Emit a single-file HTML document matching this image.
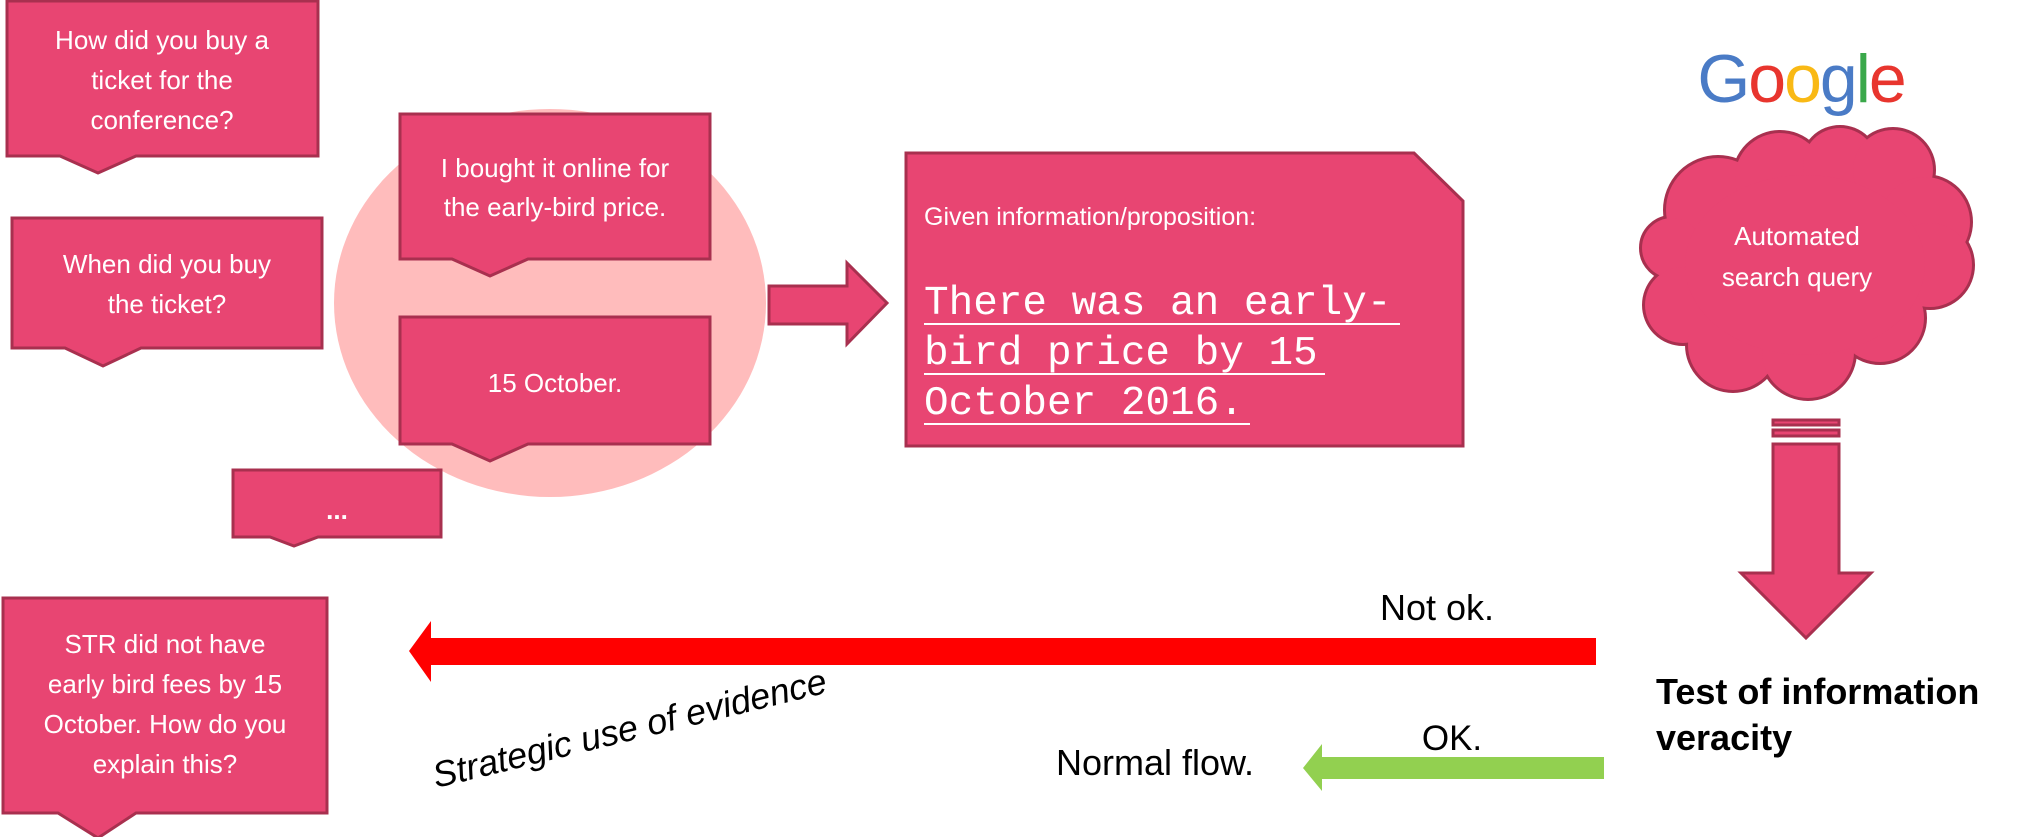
<!DOCTYPE html>
<html><head><meta charset="utf-8"><style>
html,body{margin:0;padding:0;background:#fff;}
svg{display:block;}
.w{fill:#fff;font-family:"Liberation Sans",sans-serif;font-size:26px;text-anchor:middle;}
</style></head><body>
<svg width="2019" height="837" viewBox="0 0 2019 837" xmlns="http://www.w3.org/2000/svg">
<g stroke="#a8304f" stroke-width="3" fill="#e84572">
<ellipse cx="550" cy="303" rx="216" ry="194" fill="#ffbcbc" stroke="none"/>
<path d="M7,1 H318 V156 H136 L98,173 L60,156 H7 Z"/>
<path d="M12,218 H322 V348 H141 L103,366 L65,348 H12 Z"/>
<path d="M400,114 H710 V259 H528 L490,276 L452,259 H400 Z"/>
<path d="M400,317 H710 V444 H528 L490,461 L452,444 H400 Z"/>
<path d="M233,470 H441 V537 H318 L294,546 L270,537 H233 Z"/>
<path d="M3,598 H327 V813 H136 L98,838 L58,813 H3 Z"/>
<path d="M769,286 H847 V263 L887,303 L847,344 V324 H769 Z"/>
<path d="M906,153 H1414 L1463,201 V446 H906 Z"/>
<path d="M1773,444 H1839 V573 H1871 L1806,638 L1741,573 H1773 Z"/>
<rect x="1773" y="420" width="66" height="5"/>
<rect x="1773" y="430" width="66" height="6"/>
</g>
<g fill="#e84572" stroke="#a8304f" stroke-width="6">
<circle cx="1718" cy="210" r="52"/><circle cx="1780" cy="178" r="45"/><circle cx="1840" cy="165" r="37"/>
<circle cx="1893" cy="170" r="40"/><circle cx="1925" cy="222" r="45"/><circle cx="1930" cy="265" r="42"/>
<circle cx="1672" cy="248" r="30"/><circle cx="1683" cy="305" r="38"/><circle cx="1733" cy="345" r="45"/>
<circle cx="1808" cy="352" r="46"/><circle cx="1880" cy="318" r="44"/>
</g>
<g fill="#e84572">
<circle cx="1718" cy="210" r="52"/><circle cx="1780" cy="178" r="45"/><circle cx="1840" cy="165" r="37"/>
<circle cx="1893" cy="170" r="40"/><circle cx="1925" cy="222" r="45"/><circle cx="1930" cy="265" r="42"/>
<circle cx="1672" cy="248" r="30"/><circle cx="1683" cy="305" r="38"/><circle cx="1733" cy="345" r="45"/>
<circle cx="1808" cy="352" r="46"/><circle cx="1880" cy="318" r="44"/>
<ellipse cx="1805" cy="265" rx="120" ry="90"/>
</g>
<text x="1801" y="102" font-family="Liberation Sans,sans-serif" font-size="68" letter-spacing="-2" text-anchor="middle"><tspan fill="#4a7bc6">G</tspan><tspan fill="#e8352e">o</tspan><tspan fill="#f9b915">o</tspan><tspan fill="#4a7bc6">g</tspan><tspan fill="#3aa84a">l</tspan><tspan fill="#e8352e">e</tspan></text>
<text class="w" x="1797" y="245">Automated</text>
<text class="w" x="1797" y="286">search query</text>

<text class="w" x="162" y="49">How did you buy a</text>
<text class="w" x="162" y="89">ticket for the</text>
<text class="w" x="162" y="129">conference?</text>
<text class="w" x="167" y="273">When did you buy</text>
<text class="w" x="167" y="313">the ticket?</text>
<text class="w" x="555" y="177">I bought it online for</text>
<text class="w" x="555" y="216">the early-bird price.</text>
<text class="w" x="555" y="392">15 October.</text>
<text class="w" x="337" y="519" font-weight="bold">...</text>
<text class="w" x="165" y="653">STR did not have</text>
<text class="w" x="165" y="693">early bird fees by 15</text>
<text class="w" x="165" y="733">October. How do you</text>
<text class="w" x="165" y="773">explain this?</text>

<text x="924" y="225" fill="#fff" font-family="Liberation Sans,sans-serif" font-size="25">Given information/proposition:</text>
<g fill="#fff" font-family="Liberation Mono,monospace" font-size="41">
<text x="924" y="314">There was an early-</text>
<text x="924" y="364">bird price by 15</text>
<text x="924" y="414">October 2016.</text>
</g>
<g stroke="#fff" stroke-width="2">
<line x1="924" y1="324" x2="1400" y2="324"/>
<line x1="924" y1="374" x2="1325" y2="374"/>
<line x1="924" y1="424" x2="1250" y2="424"/>
</g>

<path d="M431,638 H1596 V665 H431 V682 L409,651 L431,621 Z" fill="#ff0000"/>
<text x="1494" y="620" font-family="Liberation Sans,sans-serif" font-size="36" text-anchor="end">Not ok.</text>
<path d="M1322,757 H1604 V779 H1322 V791 L1303,768 L1322,744 Z" fill="#92d050"/>
<text x="1452" y="750" font-family="Liberation Sans,sans-serif" font-size="35" text-anchor="middle">OK.</text>
<text x="1056" y="775" font-family="Liberation Sans,sans-serif" font-size="36">Normal flow.</text>
<text x="1656" y="704" font-family="Liberation Sans,sans-serif" font-size="36" font-weight="bold">Test of information</text>
<text x="1656" y="750" font-family="Liberation Sans,sans-serif" font-size="36" font-weight="bold">veracity</text>
<text transform="translate(436,788) rotate(-13.7)" font-family="Liberation Sans,sans-serif" font-size="36" font-style="italic">Strategic use of evidence</text>
</svg>
</body></html>
